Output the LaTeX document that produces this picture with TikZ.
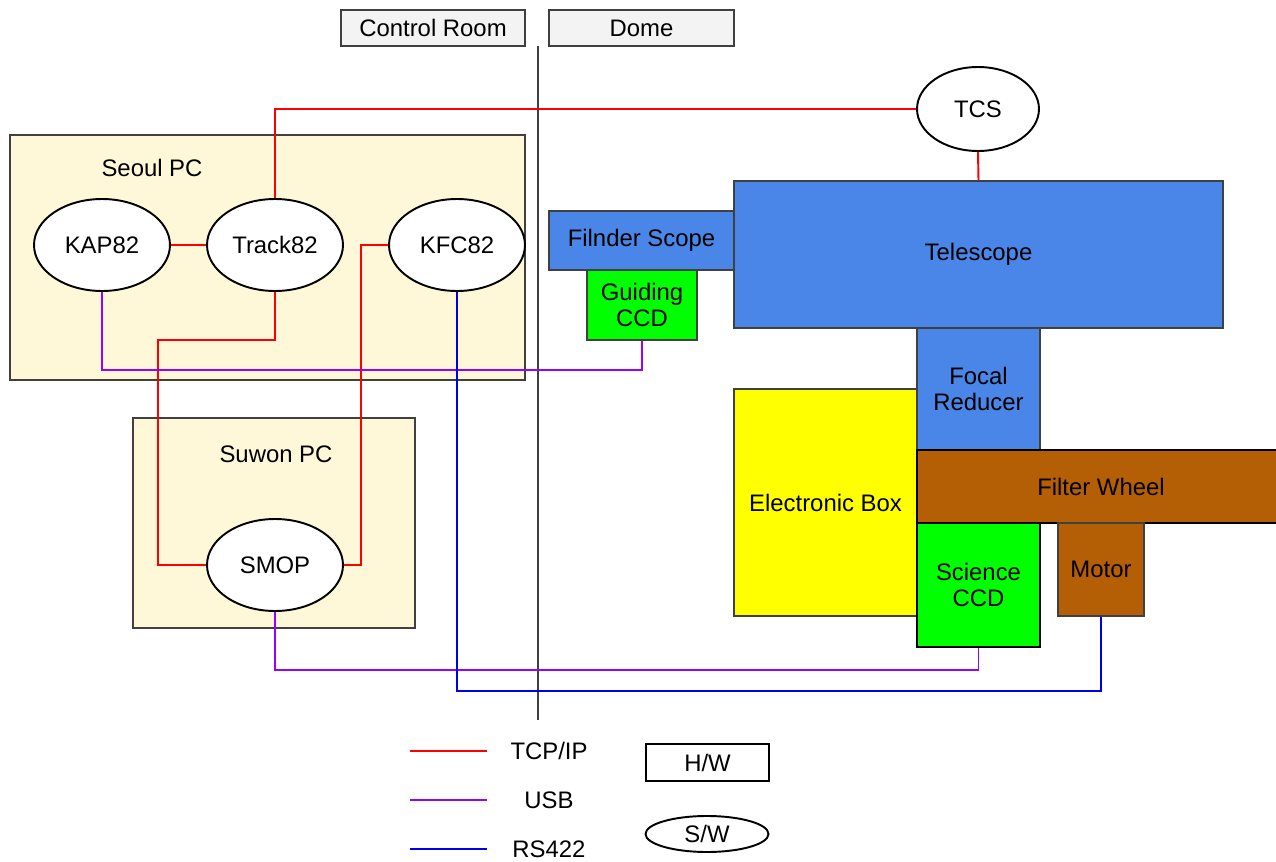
\documentclass[tikz,border=0pt]{standalone}
\usepackage{fontspec}
\setmainfont{Liberation Sans}
\usetikzlibrary{positioning,calc,shapes.geometric}
\definecolor{PCcream}{HTML}{FEF8D8}
\definecolor{RoomGray}{HTML}{F3F3F3}
\definecolor{BoxEdge}{HTML}{404040}
\definecolor{ScopeBlue}{HTML}{4A86E8}
\definecolor{CCDGreen}{HTML}{00FF00}
\definecolor{BoxYellow}{HTML}{FFFF00}
\definecolor{WheelBrown}{HTML}{B45F06}
\definecolor{USBPurple}{HTML}{9900FF}
\definecolor{RSBlue}{HTML}{0000E6}

\begin{document}
\begin{tikzpicture}[x=0.02cm, y=-0.02cm,
  every node/.style={font=\fontsize{13.6pt}{14.8pt}\selectfont},
  hwbox/.style={draw=BoxEdge, line width=1.1pt, inner sep=0pt, align=center},
  swnode/.style={draw=black, line width=1.1pt, ellipse, fill=white, inner sep=0pt,
    minimum width=2.72cm, minimum height=1.84cm},
  tcpip/.style={red, line width=1.1pt},
  usb/.style={USBPurple, line width=1.1pt},
  rs/.style={RSBlue, line width=1.1pt}]
  \clip (0,0) rectangle (1276,862);

  \node[hwbox, fill=RoomGray, minimum width=3.68cm, minimum height=0.72cm] (ctrl) at (433,28) {Control Room};
  \node[hwbox, fill=RoomGray, minimum width=3.70cm, minimum height=0.72cm] (dome) at (641.5,28) {Dome};
  \coordinate (divtop) at (538,46);
  \coordinate (divbot) at (538,720);
  \draw[BoxEdge, line width=1.1pt] (divtop) -- (divbot);

  \node[hwbox, fill=PCcream, minimum width=10.3cm, minimum height=4.9cm] (seoul) at (267.5,257.5) {};
  \node (seoullbl) at (152,168) {Seoul PC};
  \node[hwbox, fill=PCcream, minimum width=5.64cm, minimum height=4.2cm] (suwon) at (274,523) {};
  \node (suwonlbl) at (276,454) {Suwon PC};

  \node[swnode] (kap) at (102,245) {KAP82};
  \node[swnode] (track) at (275,245) {Track82};
  \node[swnode] (kfc) at (457,245) {KFC82};
  \node[swnode] (smop) at (275,565) {SMOP};
  \node[swnode, minimum width=2.44cm, minimum height=1.68cm] (tcs) at (978,109) {TCS};

  \node[hwbox, fill=ScopeBlue, minimum width=9.78cm, minimum height=2.94cm] (tele) at (978.5,254.5) {Telescope};
  \node[hwbox, fill=ScopeBlue, minimum width=3.7cm, minimum height=1.18cm] (finder) at (641.5,240.5) {Filnder Scope};
  \node[hwbox, fill=CCDGreen, minimum width=2.2cm, minimum height=1.4cm] (guide) at (642,305) {Guiding\\CCD};
  \node[hwbox, fill=ScopeBlue, minimum width=2.46cm, minimum height=2.44cm] (focal) at (978.5,389) {Focal\\Reducer};
  \node[hwbox, fill=BoxYellow, minimum width=3.66cm, minimum height=4.54cm] (ebox) at (825.5,502.5) {Electronic Box};
  \node[hwbox, draw=black, fill=WheelBrown, minimum width=7.36cm, minimum height=1.46cm] (wheel) at (1101,486.5) {Filter Wheel};
  \node[hwbox, draw=black, fill=CCDGreen, minimum width=2.46cm, minimum height=2.48cm] (sci) at (978.5,585) {Science\\CCD};
  \node[hwbox, fill=WheelBrown, minimum width=1.72cm, minimum height=1.86cm] (motor) at (1101,569.5) {Motor};

  \draw[tcpip] (kap.east) -- (track.west);
  \draw[tcpip] (track.north) |- (tcs.west);
  \draw[tcpip] (tcs.south) -- (tele.north);
  \draw[tcpip] (track.south) |- (158,340) |- (smop.west);
  \draw[tcpip] (kfc.west) -- ++(-27,0) |- (smop.east);
  \draw[usb] (kap.south) -- ++(0,78) -| (guide.south);
  \draw[usb] (smop.south) -- ++(0,58) -| (sci.south);
  \draw[rs] (kfc.south) -- ++(0,399) -| (motor.south);

  \coordinate (tcpA) at (410,751); \coordinate (tcpB) at (487,751);
  \coordinate (usbA) at (410,800); \coordinate (usbB) at (487,800);
  \coordinate (rsA) at (410,849);  \coordinate (rsB) at (487,849);
  \draw[tcpip] (tcpA) -- (tcpB);
  \draw[usb] (usbA) -- (usbB);
  \draw[rs] (rsA) -- (rsB);
  \node (tcplbl) at (549,751) {TCP/IP};
  \node (usblbl) at (549,800) {USB};
  \node (rslbl) at (549,849) {RS422};
  \node[hwbox, draw=black, minimum width=2.46cm, minimum height=0.74cm] (hwkey) at (707.5,762.5) {H/W};
  \node[swnode, minimum width=2.46cm, minimum height=0.72cm] (swkey) at (707,834) {S/W};
\end{tikzpicture}
\end{document}
